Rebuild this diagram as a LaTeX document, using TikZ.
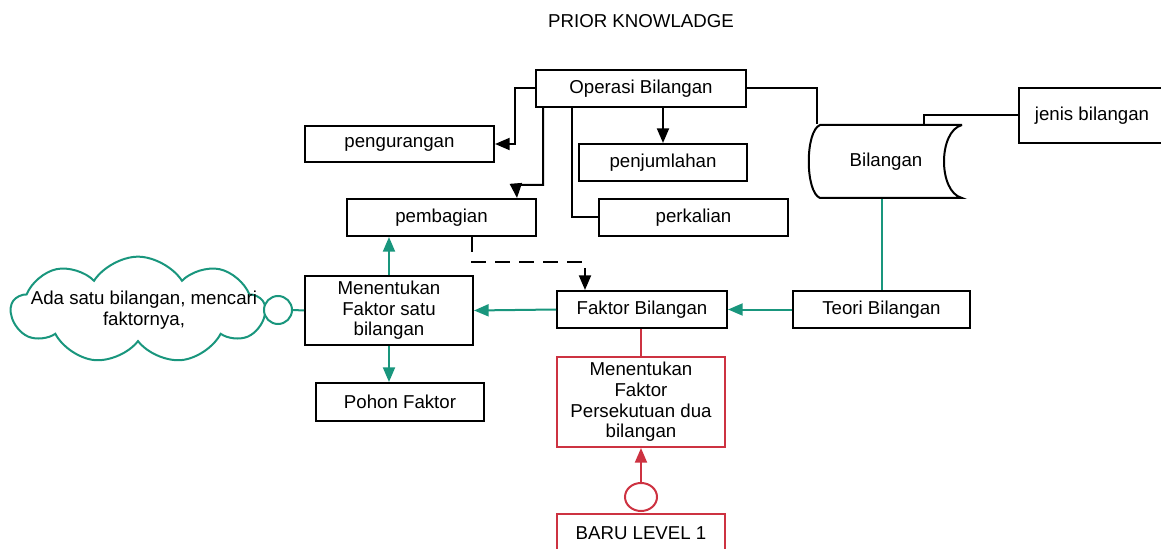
\documentclass[tikz,border=0pt]{standalone}
\usepackage{fontspec}
\setmainfont{Liberation Sans}
\usetikzlibrary{arrows.meta,shapes.geometric,shapes.symbols}
\definecolor{tealline}{RGB}{25,150,125}
\definecolor{redline}{RGB}{205,50,65}
\newcommand{\lw}{1.5pt}

\begin{document}
\begin{tikzpicture}[x=0.75pt, y=-0.75pt, line width=\lw,
    font=\fontsize{14}{15.5}\selectfont]
                        %\draw[help lines] (0,0) grid (1161,549);
                        \tikzset{box/.style = {draw, rectangle, inner sep = 2pt, align = center},
                                 tip/.style = {-{Triangle[length=11pt, width=9pt]}},
                                 tl/.style = {draw = tealline, tip},
                                 rl/.style = {draw = redline}}
                        \useasboundingbox (0,0) rectangle (1161,549);
                        \node (title) at (641,21) {PRIOR KNOWLADGE};
                        % top part
                        \node[box, minimum width=157.5pt, minimum height=27.75pt] (opr) at (641,88.5) {Operasi Bilangan};
                        \node[box, minimum width=141.75pt, minimum height=27pt] (peng) at (399.5,144) {pengurangan};
                        \node[box, minimum width=126pt, minimum height=27.75pt] (penj) at (663,162.5) {penjumlahan};
                        \node[box, minimum width=141.75pt, minimum height=27.75pt] (pemb) at (441.5,217.5) {pembagian};
                        \node[box, minimum width=141.75pt, minimum height=27.75pt] (perk) at (693.5,217.5) {perkalian};
                        \node[box, minimum width=109.5pt, minimum height=41.25pt] (jenis) at (1092,115.5) {jenis bilangan};
                        \begin{scope}
                            \draw (962,125) -- (820,125) .. controls (805,131) and (805,192) .. (820,198)
                                  -- (962,198) .. controls (938,192) and (938,131) .. (962,125);
                            \node[minimum width=114pt, minimum height=54.75pt, inner sep=0pt] (bil) at (886,161.5) {Bilangan\hspace{12pt}};
                        \end{scope}
                        \draw[tip] (opr.west) -- ++(-20,0) |- (peng.east);
                        \draw[tip] ([xshift=6pt]opr.south west) |- (516,185) -- ([xshift=-15pt]pemb.north east);
                        \draw ([xshift=27.75pt]opr.south west) |- (perk.west);
                        \draw[tip] (opr.south -| penj.north) -- (penj.north);
                        \draw (opr.east) -| ([xshift=6pt]bil.north west);
                        \draw (jenis.west) -| ([xshift=28.5pt]bil.north);
                        % middle part
                        \node[box, minimum width=127.5pt, minimum height=27.75pt] (fak) at (642,309.5) {Faktor Bilangan};
                        \node[box, minimum width=132.75pt, minimum height=27.75pt] (teori) at (881.5,309.5) {Teori Bilangan};
                        \node[box, minimum width=126pt, minimum height=51.75pt] (mfs) at (389,310.5) {Menentukan\\Faktor satu\\bilangan};
                        \node[box, minimum width=126pt, minimum height=28.5pt] (pohon) at (400,402) {Pohon Faktor};
                        \node[cloud, cloud puffs=9, cloud puff arc=115, aspect=2.3, draw=tealline,
                              minimum width=190pt, minimum height=80pt] (cloud) at (138,310) {};
                        \node[align=center] (ctext) at (144,310) {Ada satu bilangan, mencari\\faktornya,};
                        \node[circle, draw=tealline, minimum size=21pt, inner sep=0pt, fill=white] (dot) at (278,310) {};
                        \draw[draw=tealline] (bil.south -| teori.north) -- (teori.north);
                        \draw[tl] (teori.west) -- (fak.east);
                        \draw[tl] (fak.west) -- (mfs.east);
                        \draw[tl] (mfs.north) -- (mfs.north |- pemb.south);
                        \draw[tl] (mfs.south) -- (mfs.south |- pohon.north);
                        \draw[draw=tealline] (dot.east) -- (mfs.west);
                        \draw[tip, dash pattern=on 11pt off 7pt] ([xshift=23pt]pemb.south) |- ([xshift=-42.75pt, yshift=21pt]fak.north)
                              -- ([xshift=-42.75pt]fak.north);
                        % bottom part
                        \node[box, draw=redline, minimum width=126pt, minimum height=67.5pt] (mfp) at (641,402) {Menentukan\\Faktor\\Persekutuan dua\\bilangan};
                        \node[ellipse, draw=redline, minimum width=24pt, minimum height=21pt, inner sep=0pt] (rdot) at (641,497) {};
                        \node[box, draw=redline, minimum width=126pt, minimum height=28.5pt] (baru) at (641,533) {BARU LEVEL 1};
                        \draw[rl] (fak.south -| mfp.north) -- (mfp.north);
                        \draw[rl, tip] (rdot.north) -- (mfp.south);
\end{tikzpicture}
\end{document}
